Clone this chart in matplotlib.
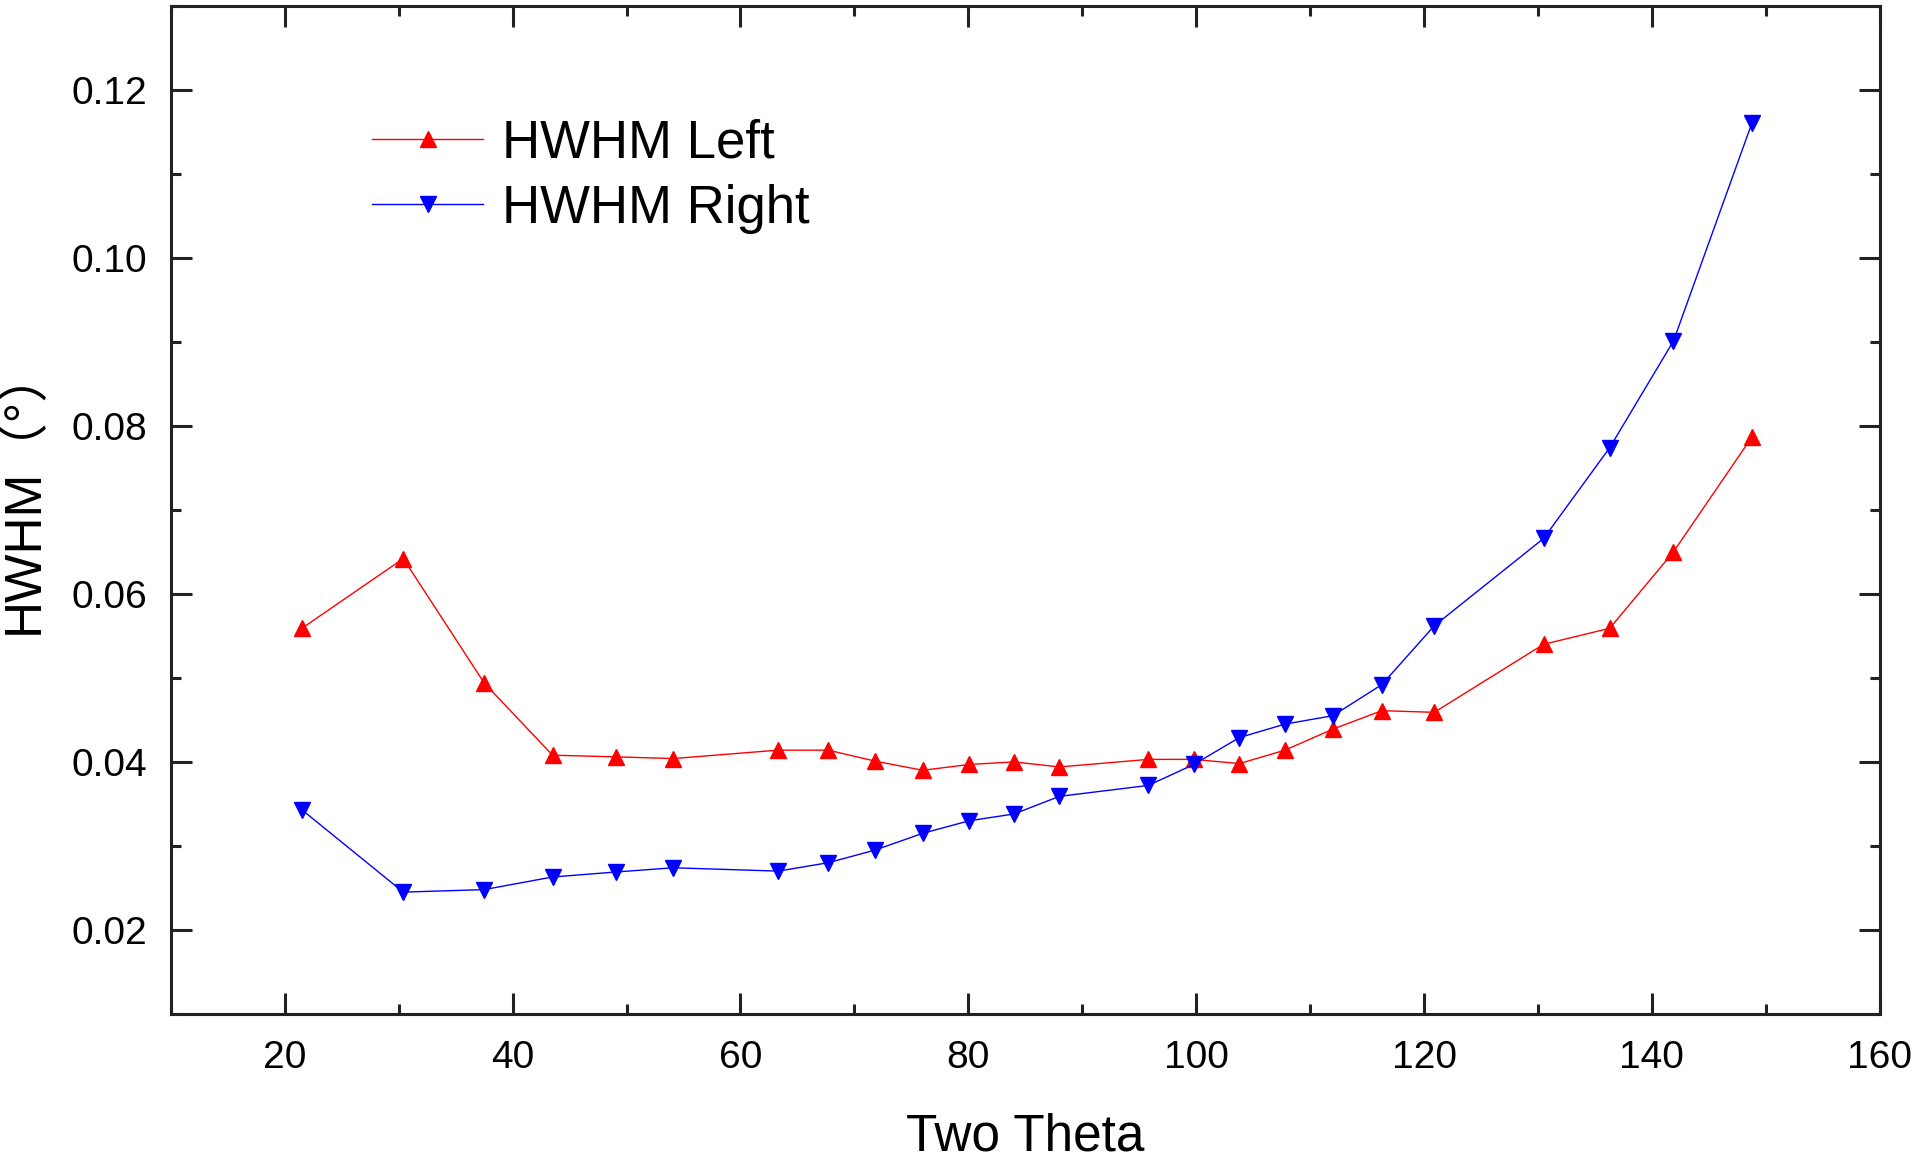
import matplotlib
matplotlib.use("Agg")
import matplotlib.pyplot as plt
from matplotlib.ticker import MultipleLocator

two_theta = [21.5, 30.4, 37.5, 43.5, 49.1, 54.1, 63.3, 67.7, 71.8, 76.0, 80.1, 84.0,
             88.0, 95.8, 99.8, 103.8, 107.8, 112.0, 116.3, 120.9, 130.5, 136.3, 141.9, 148.8]
hwhm_left = [0.0559, 0.0642, 0.0494, 0.0408, 0.0406, 0.0404, 0.0414, 0.0414, 0.0401, 0.0390,
             0.0397, 0.0400, 0.0394, 0.0403, 0.0403, 0.0398, 0.0414, 0.0439, 0.0461, 0.0459,
             0.0540, 0.0559, 0.0650, 0.0787]
hwhm_right = [0.0343, 0.0245, 0.0248, 0.0263, 0.0269, 0.0274, 0.0270, 0.0280, 0.0295, 0.0315,
              0.0330, 0.0338, 0.0359, 0.0372, 0.0397, 0.0429, 0.0445, 0.0455, 0.0492, 0.0562,
              0.0666, 0.0774, 0.0901, 0.1161]
series_labels = ["HWHM Left", "HWHM Right"]
x_label = "Two Theta"
y_label = "HWHM（°）"
x_ticks = [20, 40, 60, 80, 100, 120, 140, 160]
y_ticks = [0.02, 0.04, 0.06, 0.08, 0.10, 0.12]
y_tick_labels = ["0.02", "0.04", "0.06", "0.08", "0.10", "0.12"]

plt.rcParams['font.family'] = ['Liberation Sans', 'Noto Sans CJK SC', 'DejaVu Sans']

fig = plt.figure(figsize=(19.2, 11.58), dpi=100)
ax = fig.add_axes([0.089, 0.1244, 0.890, 0.8706])

ax.plot(two_theta, hwhm_left, color='#ff0000', lw=1.0, marker='^', ms=12,
        mec='#ff0000', mfc='#ff0000', label=series_labels[0])
ax.plot(two_theta, hwhm_right, color='#0000ff', lw=1.0, marker='v', ms=12,
        mec='#0000ff', mfc='#0000ff', label=series_labels[1])

ax.set_xlim(10, 160)
ax.set_ylim(0.01, 0.13)
ax.xaxis.set_minor_locator(MultipleLocator(10))
ax.yaxis.set_minor_locator(MultipleLocator(0.01))
ax.set_xticks(x_ticks)
ax.set_xticklabels([str(v) for v in x_ticks])
ax.set_yticks(y_ticks)
ax.set_yticklabels(y_tick_labels)

for s in ax.spines.values():
    s.set_linewidth(2.2)
    s.set_color('#222222')

ax.tick_params(which='both', direction='in', top=True, right=True, width=2.2, color='#222222')
ax.tick_params(which='major', length=15)
ax.tick_params(which='minor', length=7.5)
ax.tick_params(axis='x', which='major', labelsize=28, pad=19)
ax.tick_params(axis='y', which='major', labelsize=28, pad=17)

ax.set_xlabel(x_label, fontsize=37, labelpad=26)
ax.set_ylabel(y_label, fontsize=37)
ax.yaxis.set_label_coords(-0.0715, 0.52)

leg = ax.legend(loc='upper left', bbox_to_anchor=(0.194, 0.898),
                bbox_transform=fig.transFigure, frameon=False, fontsize=38,
                handlelength=2.1, handletextpad=0.35, labelspacing=0.3,
                borderpad=0, borderaxespad=0)

fig.savefig("out.png", dpi=100)
